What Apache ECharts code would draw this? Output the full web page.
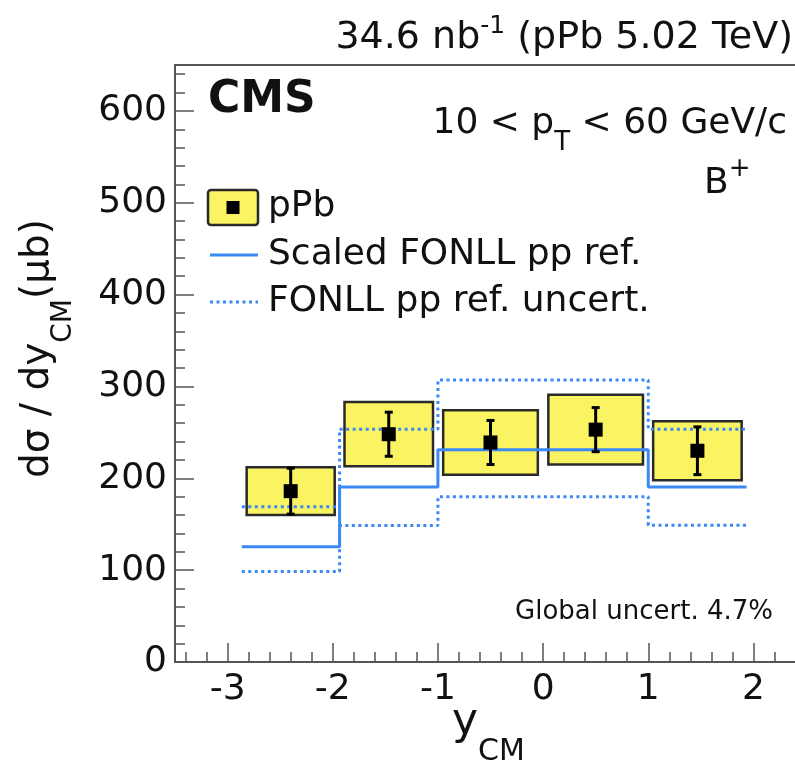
<!DOCTYPE html>
<html>
<head>
<meta charset="utf-8">
<title>B+ pPb cross section vs y_CM</title>
<script src="https://cdn.jsdelivr.net/npm/echarts@6/dist/echarts.min.js"></script>
<style>
	html, body { margin: 0; padding: 0; background: #fff; }
	#chart { width: 795px; height: 769px; }
</style>
</head>
<body>
<div id="chart"></div>
<script>
// rapidity bins (y_CM)
var binEdges = [-2.865, -1.935, -1.0, 0.0, 1.0, 1.935];
var binCenters = [-2.4, -1.4675, -0.5, 0.5, 1.4675];
// pPb data (ub)
var pPbValues = [186, 248, 239, 253, 230];
var pPbStat = [25, 24, 24, 24, 26];
var pPbSyst = [26, 35, 35, 38, 32];
// scaled FONLL pp reference
var fonllCentral = [125.5, 190.5, 231, 231, 190.5];
var fonllUpper = [169, 253.5, 307, 307, 253.5];
var fonllLower = [98.5, 148.5, 180, 180, 149];
// axis ticks
var xTickLabels = [-3, -2, -1, 0, 1, 2];
var yTickLabels = [0, 100, 200, 300, 400, 500, 600];

var xMinorTicks = [];
for (var i = -17; i <= 12; i++) xMinorTicks.push(i / 5);
var yMinorTicks = [];
for (var v = 0; v <= 640; v += 20) yMinorTicks.push(v);

var YELLOW = '#faf362';
var BLUE = '#3a89f5';
var AXIS = '#555';
var FONT = 'DejaVu Sans';

function stepLine(vals) {
	var pts = [];
	for (var i = 0; i < vals.length; i++) {
		pts.push([binEdges[i], vals[i]]);
		pts.push([binEdges[i + 1], vals[i]]);
	}
	return pts;
}

// text with sub/superscripts, laid out with measured widths
var measureCtx = document.createElement('canvas').getContext('2d');
function textRun(parts, opt) {
	var children = [];
	var x = 0;
	parts.forEach(function (p) {
		var weight = p[3] || 'normal';
		measureCtx.font = weight + ' ' + p[1] + 'px "' + FONT + '"';
		children.push({
			type: 'text', x: x, y: p[2] || 0,
			style: {
				text: p[0], fontSize: p[1], fontFamily: FONT, fontWeight: weight, fill: '#111',
				align: 'left', verticalAlign: 'middle', textAlign: 'left', textVerticalAlign: 'middle'
			}
		});
		x += measureCtx.measureText(p[0]).width;
	});
	var shift = opt.align === 'right' ? -x : (opt.align === 'center' ? -x / 2 : 0);
	children.forEach(function (c) { c.x += shift; });
	return { type: 'group', x: opt.x, y: opt.y, rotation: opt.rotation || 0, children: children, z: 100 };
}

var chart = echarts.init(document.getElementById('chart'), null, { renderer: 'canvas' });

function valueAxis(min, max, major, minor, pos, isMinor) {
	return {
		type: 'value', min: min, max: max, position: pos,
		axisLine: { show: !isMinor, onZero: false, lineStyle: { color: AXIS, width: 2 } },
		axisTick: {
			show: true, inside: true, length: isMinor ? 10 : 19,
			customValues: isMinor ? minor : major,
			lineStyle: { color: AXIS, width: 1.5 }
		},
		axisLabel: {
			show: !isMinor, customValues: major, fontSize: 36, fontFamily: FONT, color: '#111',
			margin: pos === 'bottom' ? 10 : 8
		},
		splitLine: { show: false }
	};
}

var option = {
	animation: false,
	backgroundColor: '#fff',
	grid: {
		left: 175, right: -11, top: 65, bottom: 107,
		show: true, borderColor: AXIS, borderWidth: 2,
		containLabel: false, outerBoundsMode: 'none'
	},
	xAxis: [
		valueAxis(-3.5, 2.5, xTickLabels, xMinorTicks, 'bottom', false),
		valueAxis(-3.5, 2.5, xTickLabels, xMinorTicks, 'bottom', true)
	],
	yAxis: [
		valueAxis(0, 650, yTickLabels, yMinorTicks, 'left', false),
		valueAxis(0, 650, yTickLabels, yMinorTicks, 'left', true)
	],
	series: [
		{
			name: 'pPb syst',
			type: 'custom', z: 2,
			data: binCenters.map(function (c, i) {
				return [c, pPbValues[i], pPbSyst[i], 0.45 * (binEdges[i + 1] - binEdges[i])];
			}),
			encode: { x: 0, y: 1 },
			renderItem: function (params, api) {
				var c = api.value(0), val = api.value(1), s = api.value(2), hw = api.value(3);
				var p0 = api.coord([c - hw, val + s]);
				var p1 = api.coord([c + hw, val - s]);
				return {
					type: 'rect',
					shape: { x: p0[0], y: p0[1], width: p1[0] - p0[0], height: p1[1] - p0[1] },
					style: { fill: YELLOW, stroke: '#2a2a2a', lineWidth: 2.5 }
				};
			}
		},
		{
			name: 'Scaled FONLL pp ref.',
			type: 'line', z: 3, data: stepLine(fonllCentral),
			showSymbol: false, symbol: 'none',
			lineStyle: { color: BLUE, width: 3 }
		},
		{
			name: 'FONLL upper',
			type: 'line', z: 3, data: stepLine(fonllUpper),
			showSymbol: false, symbol: 'none',
			lineStyle: { color: BLUE, width: 3, type: [3, 3.5] }
		},
		{
			name: 'FONLL lower',
			type: 'line', z: 3, data: stepLine(fonllLower),
			showSymbol: false, symbol: 'none',
			lineStyle: { color: BLUE, width: 3, type: [3, 3.5] }
		},
		{
			name: 'pPb stat',
			type: 'custom', z: 4,
			data: binCenters.map(function (c, i) { return [c, pPbValues[i], pPbStat[i]]; }),
			encode: { x: 0, y: 1 },
			renderItem: function (params, api) {
				var c = api.value(0), val = api.value(1), e = api.value(2);
				var top = api.coord([c, val + e]);
				var bot = api.coord([c, val - e]);
				var st = { stroke: '#000', lineWidth: 3 };
				return {
					type: 'group',
					children: [
						{ type: 'line', shape: { x1: top[0], y1: top[1], x2: bot[0], y2: bot[1] }, style: st },
						{ type: 'line', shape: { x1: top[0] - 4, y1: top[1], x2: top[0] + 4, y2: top[1] }, style: st },
						{ type: 'line', shape: { x1: bot[0] - 4, y1: bot[1], x2: bot[0] + 4, y2: bot[1] }, style: st }
					]
				};
			}
		},
		{
			name: 'pPb',
			type: 'scatter', z: 5,
			data: binCenters.map(function (c, i) { return [c, pPbValues[i]]; }),
			symbol: 'rect', symbolSize: 14,
			itemStyle: { color: '#000', opacity: 1 }
		}
	],
	graphic: [
		textRun([['34.6 nb', 38, 0], ['-1', 25, -12], [' (pPb 5.02 TeV)', 38, 0]], { x: 793, y: 38, align: 'right' }),
		textRun([['CMS', 44, 0, 'bold']], { x: 208, y: 101 }),
		textRun([['10 < p', 36, 0], ['T', 26, 19], [' < 60 GeV/c', 36, 0]], { x: 787, y: 124, align: 'right' }),
		textRun([['B', 36, 0], ['+', 26, -15]], { x: 704, y: 184 }),
		textRun([['Global uncert. 4.7%', 26, 0]], { x: 773, y: 612, align: 'right' }),
		textRun([['y', 44, 0], ['CM', 30, 29]], { x: 452, y: 723 }),
		textRun([['d\u03c3 / dy', 39, 0], ['CM', 28, 26], ['(\u03bcb)', 39, 0]], { x: 38, y: 478, rotation: Math.PI / 2 }),
		// legend
		{
			type: 'rect', z: 100,
			shape: { x: 208, y: 190, width: 50, height: 35, r: 3 },
			style: { fill: YELLOW, stroke: '#2a2a2a', lineWidth: 2.5 }
		},
		{
			type: 'rect', z: 101,
			shape: { x: 226.5, y: 201, width: 13, height: 13 },
			style: { fill: '#000' }
		},
		textRun([['pPb', 36, 0]], { x: 268, y: 207 }),
		{
			type: 'line', z: 100,
			shape: { x1: 210, y1: 255, x2: 258, y2: 255 },
			style: { stroke: BLUE, lineWidth: 3 }
		},
		textRun([['Scaled FONLL pp ref.', 36, 0]], { x: 268, y: 255 }),
		{
			type: 'line', z: 100,
			shape: { x1: 210, y1: 302, x2: 258, y2: 302 },
			style: { stroke: BLUE, lineWidth: 3, lineDash: [3, 3.5] }
		},
		textRun([['FONLL pp ref. uncert.', 36, 0]], { x: 268, y: 302 })
	]
};

chart.setOption(option);
</script>
</body>
</html>
